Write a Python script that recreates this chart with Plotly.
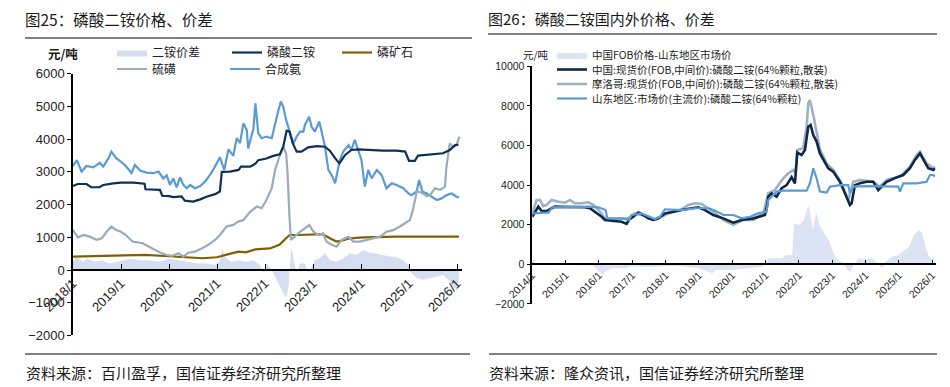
import plotly.graph_objects as go

# The page body has an 8px margin, so the figure is sized to fill the rest of the window
# and all layout positions are given in window pixels, converted below.
OFF = 8
FW, FH = 950 - OFF, 387 - OFF
def PX(x): return (x - OFF) / FW
def PY(y): return 1 - (y - OFF) / FH

FONT = "Liberation Sans, Arial, Noto Sans CJK SC, sans-serif"
CJK = "Noto Sans CJK SC, Liberation Sans, sans-serif"

# ---------------- Panel 1 data (decimal years) ----------------
dap_t = [2018.0, 2018.1, 2018.28, 2018.38, 2018.55, 2018.63, 2018.84, 2019.0, 2019.26, 2019.49, 2019.51,
         2019.81, 2019.86, 2020.0, 2020.09, 2020.26, 2020.33, 2020.5, 2020.65, 2020.78, 2020.96, 2021.06,
         2021.1, 2021.27, 2021.45, 2021.5, 2021.69, 2021.8, 2021.86, 2022.03, 2022.17, 2022.31, 2022.38,
         2022.45, 2022.51, 2022.58, 2022.66, 2022.76, 2022.9, 2023.08, 2023.25, 2023.35, 2023.46, 2023.55,
         2023.67, 2023.8, 2023.94, 2024.19, 2024.46, 2024.74, 2024.92, 2025.0, 2025.12, 2025.19, 2025.44,
         2025.71, 2025.85, 2025.96, 2026.03]
dap_v = [2570, 2630, 2630, 2530, 2530, 2600, 2650, 2670, 2670, 2640, 2470,
         2450, 2270, 2260, 2230, 2250, 2120, 2090, 2160, 2240, 2320, 2400,
         3000, 3010, 3060, 3160, 3160, 3250, 3360, 3410, 3490, 3540, 3770,
         4260, 4230, 3870, 3620, 3620, 3750, 3790, 3770, 3650, 3420, 3260,
         3520, 3670, 3690, 3670, 3650, 3650, 3620, 3340, 3340, 3500, 3530,
         3570, 3670, 3820, 3830]

amm_t = [2018.0, 2018.08, 2018.18, 2018.28, 2018.42, 2018.56, 2018.63, 2018.74, 2018.8, 2018.9, 2019.0,
         2019.1, 2019.22, 2019.29, 2019.4, 2019.53, 2019.67, 2019.78, 2019.88, 2019.95, 2020.02, 2020.09,
         2020.16, 2020.23, 2020.3, 2020.37, 2020.44, 2020.54, 2020.65, 2020.75, 2020.85, 2020.92, 2021.06,
         2021.15, 2021.24, 2021.34, 2021.41, 2021.48, 2021.55, 2021.62, 2021.65, 2021.7, 2021.76, 2021.8,
         2021.86, 2021.93, 2022.03, 2022.14, 2022.21, 2022.28, 2022.33, 2022.38, 2022.44, 2022.51, 2022.59,
         2022.66, 2022.73, 2022.8, 2022.83, 2022.92, 2022.97, 2023.04, 2023.13, 2023.18, 2023.25, 2023.32,
         2023.39, 2023.46, 2023.51, 2023.56, 2023.63, 2023.74, 2023.8, 2023.87, 2023.94, 2024.01, 2024.08,
         2024.15, 2024.22, 2024.33, 2024.43, 2024.53, 2024.64, 2024.74, 2024.88, 2024.99, 2025.05, 2025.16,
         2025.21, 2025.28, 2025.37, 2025.47, 2025.58, 2025.68, 2025.78, 2025.89, 2025.99, 2026.04]
amm_v = [3180, 3360, 3010, 3180, 3140, 3280, 3160, 3420, 3620, 3420, 3310,
         3180, 2960, 3210, 3040, 2980, 2960, 3010, 2800, 2900, 2600, 2800,
         2530, 2830, 2600, 2500, 2600, 2500, 2570, 2700, 2900, 3060, 3450,
         3060, 3690, 3490, 4030, 3880, 4490, 4280, 3720, 4030, 4330, 5100,
         4180, 4030, 4080, 4030, 4490, 4890, 5150, 5000, 4590, 4280, 3870,
         4080, 4230, 4230, 4430, 4690, 4380, 4230, 4540, 4230, 3770, 3060,
         2900, 2650, 3010, 3360, 3620, 3820, 3670, 3980, 3670, 3360, 2550,
         3060, 2800, 3060, 2900, 2500, 2650, 2600, 2500, 2340, 2290, 2400,
         2750, 2400, 2340, 2240, 2140, 2190, 2290, 2340, 2240, 2220]

sul_t = [2018.0, 2018.04, 2018.1, 2018.22, 2018.35, 2018.49, 2018.6, 2018.7, 2018.8, 2018.9, 2019.0,
         2019.1, 2019.24, 2019.45, 2019.67, 2019.8, 2019.95, 2020.06, 2020.2, 2020.3, 2020.4, 2020.54,
         2020.68, 2020.82, 2020.96, 2021.06, 2021.2, 2021.34, 2021.44, 2021.55, 2021.69, 2021.83, 2021.93,
         2022.03, 2022.14, 2022.21, 2022.3, 2022.38, 2022.44, 2022.47, 2022.51, 2022.54, 2022.62, 2022.73,
         2022.83, 2022.92, 2023.01, 2023.11, 2023.21, 2023.28, 2023.39, 2023.49, 2023.6, 2023.74, 2023.84,
         2023.98, 2024.12, 2024.26, 2024.4, 2024.53, 2024.67, 2024.81, 2024.92, 2025.02, 2025.09, 2025.16,
         2025.26, 2025.37, 2025.44, 2025.54, 2025.65, 2025.75, 2025.78, 2025.85, 2025.92, 2025.99, 2026.05]
sul_v = [1220, 1120, 1000, 1070, 1020, 920, 970, 1170, 1330, 1220, 1170,
         1070, 870, 820, 660, 540, 460, 430, 510, 410, 530, 560,
         660, 770, 920, 1070, 1330, 1380, 1480, 1530, 1780, 1940, 1890,
         2140, 2500, 3060, 3470, 3770, 3570, 2960, 1630, 920, 1020, 1170,
         1270, 1380, 1170, 1070, 1120, 870, 770, 710, 920, 1020, 870,
         870, 920, 970, 1020, 1170, 1220, 1330, 1430, 1530, 1890, 2400,
         2370, 2260, 2290, 2500, 2450, 2550, 3160, 3870, 3770, 3820, 4080]

rock_t = [2018.0, 2018.5, 2019.0, 2019.5, 2020.0, 2020.4, 2020.7, 2021.0, 2021.15, 2021.3, 2021.45,
          2021.6, 2021.8, 2022.1, 2022.3, 2022.4, 2022.51, 2022.7, 2023.0, 2023.2, 2023.35, 2023.49,
          2023.6, 2023.77, 2024.05, 2024.74, 2026.04]
rock_v = [410, 420, 430, 460, 420, 390, 360, 390, 460, 510, 560,
          540, 630, 660, 770, 920, 1070, 1070, 1080, 1100, 970, 870,
          900, 970, 1000, 1020, 1020]

spr1_t = [2018.0, 2018.1, 2018.2, 2018.3, 2018.45, 2018.6, 2018.75, 2018.9, 2019.0, 2019.2, 2019.4,
          2019.6, 2019.8, 2020.0, 2020.2, 2020.4, 2020.6, 2020.8, 2020.95, 2021.05, 2021.12, 2021.16,
          2021.3, 2021.45, 2021.6, 2021.75, 2021.9, 2021.97, 2022.03, 2022.1, 2022.17, 2022.27, 2022.38,
          2022.44, 2022.49, 2022.52, 2022.55, 2022.6, 2022.66, 2022.73, 2022.83, 2022.9, 2022.97, 2023.04,
          2023.14, 2023.25, 2023.35, 2023.49, 2023.63, 2023.77, 2023.91, 2024.05, 2024.12, 2024.26, 2024.4,
          2024.6, 2024.74, 2024.88, 2024.99, 2025.05, 2025.16, 2025.3, 2025.44, 2025.58, 2025.71, 2025.82,
          2025.92, 2025.99, 2026.04]
spr1_v = [300, 400, 250, 350, 250, 300, 200, 250, 300, 350, 300,
          300, 250, 350, 300, 250, 200, 200, 150, 250, 660, 400,
          250, 300, 250, 300, 150, -100, 200, 100, -100, -400, -710,
          -870, -510, 300, 710, 300, -100, 200, 200, -100, 100, 300,
          360, 510, 300, 250, 350, 510, 460, 610, 560, 510, 460,
          410, 400, 300, 150, -100, -250, -300, -250, -200, -150, -300,
          -510, -610, -310]

p1_ticks = [2018, 2019, 2020, 2021, 2022, 2023, 2024, 2025, 2026]
p1_ticktext = ["2018/1", "2019/1", "2020/1", "2021/1", "2022/1", "2023/1", "2024/1", "2025/1", "2026/1"]

# ---------------- Panel 2 data (decimal years) ----------------
cn_t = [2014.0, 2014.08, 2014.18, 2014.28, 2014.43, 2014.58, 2014.68, 2014.88, 2015.28, 2015.58, 2015.73,
        2015.88, 2016.08, 2016.18, 2016.38, 2016.68, 2016.83, 2016.9, 2017.03, 2017.18, 2017.33, 2017.48,
        2017.63, 2017.78, 2017.98, 2018.28, 2018.48, 2018.78, 2018.98, 2019.18, 2019.43, 2019.73, 2020.03,
        2020.28, 2020.63, 2020.98, 2021.05, 2021.08, 2021.18, 2021.33, 2021.48, 2021.63, 2021.78, 2021.88,
        2021.95, 2022.08, 2022.18, 2022.28, 2022.35, 2022.43, 2022.53, 2022.63, 2022.73, 2022.88, 2023.03,
        2023.23, 2023.38, 2023.53, 2023.58, 2023.68, 2023.83, 2024.03, 2024.23, 2024.38, 2024.48, 2024.63,
        2024.93, 2025.13, 2025.33, 2025.48, 2025.63, 2025.73, 2025.88, 2026.03, 2026.08]
cn_v = [2400, 2660, 2910, 2690, 2690, 2830, 2910, 2900, 2880, 2880, 2830,
        2660, 2400, 2240, 2200, 2150, 2040, 2250, 2400, 2610, 2490, 2320,
        2240, 2320, 2570, 2690, 2740, 2830, 2880, 2740, 2490, 2320, 2100,
        2240, 2320, 2490, 3000, 3420, 3580, 3420, 3840, 4000, 4400, 4090,
        5650, 5520, 5770, 6950, 7040, 6530, 6200, 5600, 5270, 4850, 4680,
        4170, 3590, 3000, 3080, 4000, 4090, 4170, 4170, 3750, 3920, 4170,
        4390, 4510, 4850, 5270, 5600, 5270, 4850, 4760, 4850]

ma_t = [2014.0, 2014.08, 2014.13, 2014.23, 2014.33, 2014.43, 2014.58, 2014.78, 2014.98, 2015.13, 2015.28,
        2015.48, 2015.68, 2015.83, 2016.03, 2016.18, 2016.48, 2016.68, 2016.88, 2017.08, 2017.28, 2017.48,
        2017.68, 2017.88, 2018.08, 2018.28, 2018.48, 2018.68, 2018.88, 2019.08, 2019.28, 2019.43, 2019.73,
        2020.03, 2020.33, 2020.63, 2020.93, 2021.08, 2021.28, 2021.53, 2021.68, 2021.83, 2021.9, 2021.95,
        2022.13, 2022.23, 2022.28, 2022.33, 2022.43, 2022.53, 2022.63, 2022.83, 2023.03, 2023.28, 2023.48,
        2023.63, 2023.83, 2024.23, 2024.43, 2024.63, 2025.03, 2025.33, 2025.53, 2025.63, 2025.83, 2026.03,
        2026.08]
ma_v = [2570, 3000, 3250, 3250, 2940, 3000, 3250, 3160, 3110, 3250, 3080,
        3080, 3130, 3000, 2660, 2320, 2290, 2320, 2320, 2570, 2490, 2360,
        2240, 2400, 2570, 2660, 2780, 3000, 3080, 3050, 2830, 2660, 2240,
        1990, 2240, 2240, 2570, 3590, 3750, 4340, 4600, 4760, 4600, 5770,
        5860, 6950, 8130, 8300, 7540, 6700, 5800, 5100, 4760, 4090, 3250,
        4170, 4260, 4170, 3920, 4260, 4430, 4930, 5520, 5690, 5100, 4850,
        4930]

sd_t = [2014.0, 2014.48, 2014.6, 2015.28, 2015.68, 2015.98, 2016.2, 2016.25, 2016.68, 2016.9, 2016.98,
        2017.28, 2017.48, 2017.68, 2017.83, 2017.98, 2018.48, 2018.68, 2018.88, 2019.3, 2019.55, 2019.73,
        2020.03, 2020.28, 2020.53, 2020.78, 2021.03, 2021.08, 2021.18, 2021.33, 2021.53, 2022.23, 2022.33,
        2022.43, 2022.53, 2022.63, 2022.83, 2022.93, 2023.23, 2023.48, 2023.53, 2023.63, 2024.03, 2024.98,
        2025.03, 2025.13, 2025.53, 2025.83, 2025.93, 2026.03, 2026.08]
sd_v = [2570, 2610, 2880, 2910, 2910, 2880, 2740, 2320, 2320, 2240, 2490,
        2570, 2440, 2290, 2400, 2780, 2740, 2780, 2830, 2830, 2660, 2490,
        2490, 2320, 2400, 2570, 2660, 3250, 3420, 3670, 3720, 3720, 4090,
        4850, 4340, 3670, 3620, 3920, 4000, 4000, 3590, 3920, 3950, 3920,
        3670, 4090, 4090, 4170, 4510, 4510, 4430]

spr2_t = [2014.0, 2014.05, 2014.1, 2014.3, 2014.9, 2015.0, 2015.5, 2015.8, 2015.9, 2016.1, 2016.2,
          2016.4, 2016.8, 2016.9, 2017.0, 2017.5, 2018.0, 2018.5, 2019.0, 2019.4, 2019.5, 2020.0,
          2020.5, 2020.9, 2021.0, 2021.1, 2021.5, 2021.6, 2021.8, 2021.85, 2022.0, 2022.15, 2022.28,
          2022.35, 2022.42, 2022.52, 2022.62, 2022.75, 2022.9, 2023.0, 2023.1, 2023.25, 2023.35, 2023.45,
          2023.55, 2023.65, 2023.8, 2024.0, 2024.2, 2024.4, 2024.5, 2024.6, 2024.8, 2025.0, 2025.1,
          2025.3, 2025.45, 2025.6, 2025.7, 2025.8, 2025.9, 2026.0, 2026.05]
spr2_v = [300, 220, 50, -30, -30, -20, -50, -50, -200, -540, -370,
          -200, -200, -120, -100, -150, -80, -100, -200, -450, -290, -290,
          -200, -120, 50, 300, 300, 470, 470, 2070, 1990, 2240, 3000,
          2490, 1730, 2660, 1990, 1570, 1230, 720, 300, 140, 50, -290,
          -370, -30, 300, 220, 300, -30, -200, 140, 390, 470, 640,
          890, 1480, 1730, 1570, 890, 390, 220, 390]

p2_ticks = list(range(2014, 2027))
p2_ticktext = [f"{y}/1" for y in p2_ticks]

# ---------------- Figure ----------------
fig = go.Figure()

# Panel 1 traces
fig.add_trace(go.Scatter(x=spr1_t, y=spr1_v, name="二铵价差", mode="lines", fill="tozeroy",
                         fillcolor="#D5DEF1", line=dict(width=0, color="#D5DEF1"),
                         xaxis="x", yaxis="y", legend="legend"))
fig.add_trace(go.Scatter(x=rock_t, y=rock_v, name="磷矿石", mode="lines",
                         line=dict(width=2.2, color="#7F6000"), xaxis="x", yaxis="y", legend="legend3"))
fig.add_trace(go.Scatter(x=amm_t, y=amm_v, name="合成氨", mode="lines",
                         line=dict(width=2.2, color="#5A9BD5"), xaxis="x", yaxis="y", legend="legend5"))
fig.add_trace(go.Scatter(x=sul_t, y=sul_v, name="硫磺", mode="lines",
                         line=dict(width=2.2, color="#9AABBB"), xaxis="x", yaxis="y", legend="legend4"))
fig.add_trace(go.Scatter(x=dap_t, y=dap_v, name="磷酸二铵", mode="lines",
                         line=dict(width=2.2, color="#0E2F56"), xaxis="x", yaxis="y", legend="legend2"))

# Panel 2 traces
fig.add_trace(go.Scatter(x=spr2_t, y=spr2_v, name="中国FOB价格-山东地区市场价", mode="lines", fill="tozeroy",
                         fillcolor="#DCE4F4", line=dict(width=0, color="#DCE4F4"),
                         xaxis="x2", yaxis="y2", legend="legend6"))
fig.add_trace(go.Scatter(x=ma_t, y=ma_v, name="摩洛哥:现货价(FOB,中间价):磷酸二铵(64%颗粒,散装)", mode="lines",
                         line=dict(width=2.6, color="#9FB0C2"), xaxis="x2", yaxis="y2", legend="legend8"))
fig.add_trace(go.Scatter(x=cn_t, y=cn_v, name="中国:现货价(FOB,中间价):磷酸二铵(64%颗粒,散装)", mode="lines",
                         line=dict(width=2.6, color="#0F2847"), xaxis="x2", yaxis="y2", legend="legend7"))
fig.add_trace(go.Scatter(x=sd_t, y=sd_v, name="山东地区:市场价(主流价):磷酸二铵(64%颗粒)", mode="lines",
                         line=dict(width=2.2, color="#5B9BD5"), xaxis="x2", yaxis="y2", legend="legend9"))

axis_common = dict(showgrid=False, zeroline=False, showline=True, linecolor="#000000",
                   tickcolor="#000000", automargin=False)

# Panel 1 geometry (window pixels)
p1_x0, p1_x1 = 73, 461.8
p1_ytop, p1_ybot, p1_y0 = 73.8, 335.4, 270
# Panel 2 geometry (window pixels)
p2_x0, p2_x1 = 532.3, 935.6
p2_ytop, p2_ybot, p2_y0 = 66.3, 303.9, 264.3

def leg(x, y, size, font=CJK):
    return dict(x=PX(x), y=PY(y), xanchor="left", yanchor="middle", orientation="v",
                bgcolor="rgba(0,0,0,0)", borderwidth=0, font=dict(size=size, family=font, color="#222"),
                itemwidth=30, tracegroupgap=0)

fig.update_layout(
    width=FW, height=FH, margin=dict(l=0, r=0, t=0, b=0, pad=0, autoexpand=False),
    paper_bgcolor="white", plot_bgcolor="white",
    font=dict(family=FONT, color="#222"),
    showlegend=True,
    xaxis=dict(domain=[PX(p1_x0), PX(p1_x1)], range=[2018, 2026.1], anchor="free",
               position=PY(p1_y0), tickvals=p1_ticks, ticktext=p1_ticktext, tickangle=-45,
               ticks="inside", ticklen=5, linewidth=1.5, tickwidth=1.3,
               tickfont=dict(size=13, family=FONT, color="#222"), **axis_common),
    yaxis=dict(domain=[PY(p1_ybot), PY(p1_ytop)], range=[-2000, 6000], dtick=1000, anchor="x",
               ticks="outside", ticklen=4, linewidth=1.5, tickwidth=1.3, exponentformat="none",
               tickformat="d",
               tickfont=dict(size=13, family=FONT, color="#222"), **axis_common),
    xaxis2=dict(domain=[PX(p2_x0), PX(p2_x1)], range=[2014, 2026.1], anchor="free",
                position=PY(p2_y0), tickvals=p2_ticks, ticktext=p2_ticktext, tickangle=-45,
                ticks="inside", ticklen=4, linewidth=1.5, tickwidth=1.2,
                tickfont=dict(size=10.5, family=FONT, color="#222"), **axis_common),
    yaxis2=dict(domain=[PY(p2_ybot), PY(p2_ytop)], range=[-2000, 10000], dtick=2000, anchor="x2",
                ticks="outside", ticklen=4, linewidth=1.5, tickwidth=1.2, exponentformat="none",
                tickformat="d",
                tickfont=dict(size=10.5, family=FONT, color="#222"), **axis_common),
    legend=leg(112, 52.5, 12),
    legend2=leg(227, 52.5, 12),
    legend3=leg(337, 52.5, 12),
    legend4=leg(112, 69, 12),
    legend5=leg(225, 69, 12),
    legend6=leg(552, 55, 10.5),
    legend7=leg(552, 69.5, 10.5),
    legend8=leg(552, 84, 10.5),
    legend9=leg(552, 98.5, 10.5),
)

# Decorative header / footer rules
shapes = []
for (x0, x1, y) in [(25, 472, 38), (25, 470, 354), (488, 937, 34), (489, 937, 354)]:
    shapes.append(dict(type="line", xref="paper", yref="paper", x0=PX(x0), x1=PX(x1), y0=PY(y), y1=PY(y),
                       line=dict(color="#808080", width=2)))
fig.update_layout(shapes=shapes)

def note(text, x, y, size, bold=False, color="#1a1a1a"):
    fig.add_annotation(text=(f"<b>{text}</b>" if bold else text), x=PX(x), y=PY(y), xref="paper", yref="paper",
                       xanchor="left", yanchor="middle", showarrow=False, borderpad=0,
                       font=dict(size=size, family=CJK, color=color))

note("图25：磷酸二铵价格、价差", 24, 18.5, 15.5)
note("图26：磷酸二铵国内外价格、价差", 487, 18.5, 15)
note("元/吨", 47, 53, 12.5, bold=True)
note("元/吨", 522, 55, 10.5)
note("资料来源：百川盈孚，国信证券经济研究所整理", 25, 372, 15)
note("资料来源：隆众资讯，国信证券经济研究所整理", 488, 372, 15)

fig.write_html("out.html")
